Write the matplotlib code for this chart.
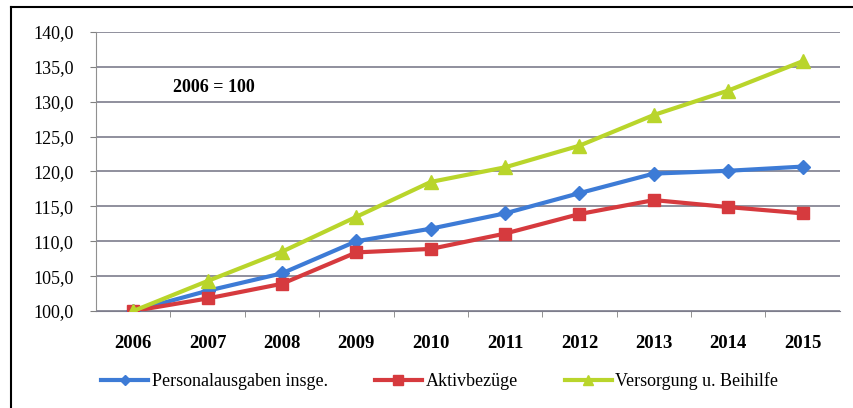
import matplotlib.pyplot as plt
from matplotlib.ticker import FuncFormatter
from matplotlib.lines import Line2D

years = ["2006", "2007", "2008", "2009", "2010", "2011", "2012", "2013", "2014", "2015"]
personal = [100.0, 102.9, 105.4, 110.0, 111.8, 114.0, 116.9, 119.7, 120.1, 120.7]
aktiv = [100.0, 101.8, 103.9, 108.4, 108.9, 111.1, 113.9, 115.9, 114.9, 114.0]
versorgung = [100.0, 104.3, 108.5, 113.5, 118.5, 120.6, 123.7, 128.1, 131.6, 135.8]

plt.rcParams['font.family'] = ['Liberation Serif', 'DejaVu Serif']

fig = plt.figure(figsize=(8.54, 4.08), dpi=100)
ax = fig.add_axes([0.1124, 0.2377, 0.871, 0.684])

x = list(range(len(years)))
ax.plot(x, personal, color='#3d7bd6', lw=3, marker='D', ms=7, label='Personalausgaben insge.', zorder=3)
ax.plot(x, aktiv, color='#d63a3e', lw=3, marker='s', ms=9, label='Aktivbezüge', zorder=4)
ax.plot(x, versorgung, color='#b9d52b', lw=3, marker='^', ms=10, label='Versorgung u. Beihilfe', zorder=5)

ax.set_xlim(-0.5, len(years) - 0.5)
ax.set_ylim(100, 140)
ax.set_yticks(range(100, 141, 5))
ax.yaxis.set_major_formatter(FuncFormatter(lambda v, p: f"{v:.1f}".replace('.', ',')))
ax.set_xticks(x)
ax.set_xticklabels(years, fontweight='bold', fontsize=13.5)
ax.set_xticks([i + 0.5 for i in x[:-1]], minor=True)
ax.tick_params(axis='x', which='major', length=0, pad=17)
ax.tick_params(axis='x', which='minor', length=4, color='#808080', direction='out')
ax.tick_params(axis='y', length=4, color='#808080', labelsize=13, pad=12)

ax.grid(axis='y', color='#7d7d8c', lw=1.2)
ax.set_axisbelow(True)
for s in ['top', 'right']:
    ax.spines[s].set_visible(False)
ax.spines['left'].set_color('#909090')
ax.spines['bottom'].set_color('#7d7d8c')

ax.text(0.103, 0.80, '2006 = 100', transform=ax.transAxes, fontsize=13, fontweight='bold', va='center')

leg = fig.legend(loc='center', bbox_to_anchor=(0.515, 0.066), ncol=3, frameon=False,
                 prop={'family': ['Liberation Serif'], 'size': 13},
                 handlelength=2.6, handletextpad=0.2, columnspacing=2.6, markerscale=0.75)

# rahmen links und oben
fig.add_artist(Line2D([0.013, 0.013], [0.0, 0.983], transform=fig.transFigure, color='black', lw=1.5))
fig.add_artist(Line2D([0.013, 1.0], [0.983, 0.983], transform=fig.transFigure, color='black', lw=1.5))

fig.savefig('out.png', dpi=100)
